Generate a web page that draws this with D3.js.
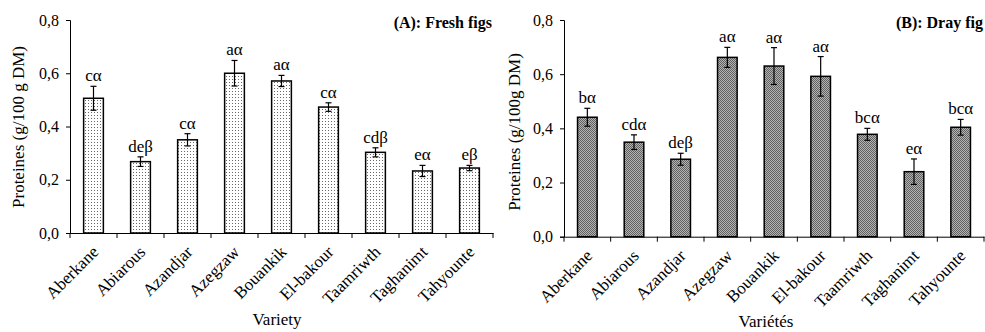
<!DOCTYPE html>
<html>
<head>
<meta charset="utf-8">
<script src="https://cdn.jsdelivr.net/npm/d3@7"></script>
<style>
  body { margin: 0; background: #fff; }
  svg text { font-family: "Liberation Serif", "Times New Roman", serif; fill: #000; }
</style>
</head>
<body>
<div id="chart"></div>
<script>
const varieties = ['Aberkane', 'Abiarous', 'Azandjar', 'Azegzaw', 'Bouankik', 'El-bakour', 'Taamriwth', 'Taghanimt', 'Tahyounte'];

// (A) fresh figs
const freshValues = [0.506, 0.268, 0.350, 0.600, 0.571, 0.473, 0.303, 0.233, 0.244];
const freshErrors = [0.045, 0.018, 0.023, 0.048, 0.021, 0.016, 0.017, 0.021, 0.010];
const freshLetters = ['cα', 'deβ', 'cα', 'aα', 'aα', 'cα', 'cdβ', 'eα', 'eβ'];

// (B) dry figs
const dryValues = [0.441, 0.349, 0.286, 0.662, 0.630, 0.592, 0.378, 0.240, 0.404];
const dryErrors = [0.033, 0.027, 0.022, 0.037, 0.068, 0.073, 0.022, 0.047, 0.029];
const dryLetters = ['bα', 'cdα', 'deβ', 'aα', 'aα', 'aα', 'bcα', 'eα', 'bcα'];

const yTicks = [0, 0.2, 0.4, 0.6, 0.8];

const W = 985, H = 332;
const svg = d3.select('#chart').append('svg')
  .attr('width', W).attr('height', H);

const defs = svg.append('defs');
// light dotted fill
const p1 = defs.append('pattern').attr('id', 'dots').attr('patternUnits', 'userSpaceOnUse')
  .attr('width', 3).attr('height', 3);
p1.append('rect').attr('width', 3).attr('height', 3).attr('fill', '#fff');
p1.append('rect').attr('x', 1).attr('y', 1).attr('width', 1).attr('height', 1).attr('fill', '#666');
// dark checker fill
const p2 = defs.append('pattern').attr('id', 'checker').attr('patternUnits', 'userSpaceOnUse')
  .attr('width', 2).attr('height', 2);
p2.append('rect').attr('width', 2).attr('height', 2).attr('fill', '#b4b4b4');
p2.append('rect').attr('width', 1).attr('height', 1).attr('fill', '#606060');
p2.append('rect').attr('x', 1).attr('y', 1).attr('width', 1).attr('height', 1).attr('fill', '#606060');

function panel(opts) {
  const g = svg.append('g');
  const x = d3.scaleBand().domain(varieties)
    .range([opts.x0, opts.x1]).paddingInner(0.58).paddingOuter(0.29);
  const y = d3.scaleLinear().domain([0, 0.8]).range([opts.y0, opts.y1]);

  // y axis
  g.append('g')
    .attr('transform', `translate(${opts.x0},0)`)
    .call(d3.axisLeft(y).tickValues(yTicks).tickSize(4)
      .tickFormat(d => d3.format('.1f')(d).replace('.', ',')))
    .call(a => a.selectAll('text').attr('font-size', 16).attr('dx', -4))
    .call(a => a.selectAll('path,line').attr('stroke', '#000'));

  // x axis line + boundary ticks
  g.append('g')
    .attr('transform', `translate(0,${opts.y0})`)
    .call(d3.axisBottom(x).tickSize(0).tickSizeOuter(0).tickFormat(''))
    .call(a => a.select('.domain').attr('stroke', '#000'));
  const step = x.step();
  g.selectAll('.bt').data(d3.range(varieties.length + 1)).join('line')
    .attr('x1', i => x(varieties[0]) - step * 0.29 + i * step)
    .attr('x2', i => x(varieties[0]) - step * 0.29 + i * step)
    .attr('y1', opts.y0).attr('y2', opts.y0 + 5)
    .attr('stroke', '#000');

  // bars
  g.selectAll('.bar').data(varieties).join('rect')
    .attr('x', d => x(d))
    .attr('width', x.bandwidth())
    .attr('y', (d, i) => y(opts.values[i]))
    .attr('height', (d, i) => y(0) - y(opts.values[i]))
    .attr('fill', `url(#${opts.fill})`)
    .attr('stroke', '#000').attr('stroke-width', 1.5);

  // error bars
  const eb = g.selectAll('.err').data(varieties).join('g');
  const cx = d => x(d) + x.bandwidth() / 2;
  eb.append('line')
    .attr('x1', cx).attr('x2', cx)
    .attr('y1', (d, i) => y(opts.values[i] + opts.errors[i]))
    .attr('y2', (d, i) => y(opts.values[i] - opts.errors[i]))
    .attr('stroke', '#000').attr('stroke-width', 1.2);
  [1, -1].forEach(s => {
    eb.append('line')
      .attr('x1', d => cx(d) - 3).attr('x2', d => cx(d) + 3)
      .attr('y1', (d, i) => y(opts.values[i] + s * opts.errors[i]))
      .attr('y2', (d, i) => y(opts.values[i] + s * opts.errors[i]))
      .attr('stroke', '#000').attr('stroke-width', 1.2);
  });

  // letters
  g.selectAll('.let').data(varieties).join('text')
    .attr('x', cx)
    .attr('y', (d, i) => y(opts.values[i] + opts.errors[i]) - 5)
    .attr('text-anchor', 'middle').attr('font-size', 17)
    .text((d, i) => opts.letters[i]);

  // category labels
  g.selectAll('.cat').data(varieties).join('text')
    .attr('transform', d => `translate(${cx(d) + 6},${opts.y0 + 20}) rotate(-45)`)
    .attr('text-anchor', 'end').attr('font-size', 17)
    .text(d => d);

  // titles
  g.append('text')
    .attr('x', opts.titleX).attr('y', 28)
    .attr('text-anchor', 'end').attr('font-size', 16).attr('font-weight', 'bold')
    .text(opts.title);
  g.append('text')
    .attr('transform', `translate(${opts.yLabelX},${opts.yLabelY}) rotate(-90)`)
    .attr('text-anchor', 'middle').attr('font-size', 17)
    .text(opts.yLabel);
  g.append('text')
    .attr('x', opts.xLabelX).attr('y', opts.xLabelY)
    .attr('text-anchor', 'middle').attr('font-size', 17)
    .text(opts.xLabel);
}

panel({
  x0: 70, x1: 493, y0: 233, y1: 20,
  values: freshValues, errors: freshErrors, letters: freshLetters,
  fill: 'dots', title: '(A): Fresh figs', titleX: 492,
  yLabel: 'Proteines (g/100 g DM)', yLabelX: 24, yLabelY: 127,
  xLabel: 'Variety', xLabelX: 277, xLabelY: 325
});

panel({
  x0: 564, x1: 984, y0: 236.7, y1: 20,
  values: dryValues, errors: dryErrors, letters: dryLetters,
  fill: 'checker', title: '(B): Dray fig', titleX: 983,
  yLabel: 'Proteines (g/100g DM)', yLabelX: 520, yLabelY: 132,
  xLabel: 'Variétés', xLabelX: 766, xLabelY: 327
});
</script>
</body>
</html>
